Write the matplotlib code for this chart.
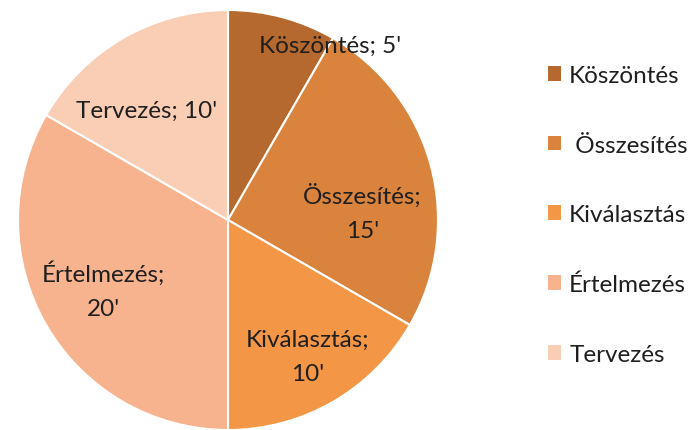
import numpy as np
import matplotlib.pyplot as plt
from matplotlib.patches import Patch

plt.rcParams['font.family'] = ['Lato', 'DejaVu Sans']

# adatok
labels = ['Köszöntés', 'Összesítés', 'Kiválasztás', 'Értelmezés', 'Tervezés']
legend_labels = ['Köszöntés', ' Összesítés', 'Kiválasztás', 'Értelmezés', 'Tervezés']
minutes = [5, 15, 10, 20, 10]
colors = ['#B5692F', '#D9833D', '#F39646', '#F7B38E', '#FACDB5']

# felirat helyek (tengely koordinatak)
label_pos = [(0.486, 0.83), (0.64, 0.04), (0.38, -0.65), (-0.595, -0.33), (-0.386, 0.52)]
label_text = ["Köszöntés; 5'", "Összesítés;\n15'", "Kiválasztás;\n10'", "Értelmezés;\n20'", "Tervezés; 10'"]

fig = plt.figure(figsize=(6.92, 4.31), dpi=100)
ax = fig.add_axes([18/692, 0, 420/692, 420/431])

ax.pie(minutes, colors=colors, startangle=90, counterclock=False, radius=1,
       wedgeprops=dict(edgecolor='white', linewidth=1.5))
ax.set_xlim(-1.0, 1.0)
ax.set_ylim(-1.0, 1.0)
ax.set_aspect('equal')

for (x, y), t in zip(label_pos, label_text):
    ax.text(x, y, t, ha='center', va='center', fontsize=17.5, color='#1f1f1f', linespacing=1.75)

handles = [Patch(facecolor=c, edgecolor='none') for c in colors]
fig.legend(handles, legend_labels, loc='upper left', bbox_to_anchor=(548/692, 1 - 66/431),
           frameon=False, fontsize=17.5, handlelength=0.54, handleheight=0.54,
           handletextpad=0.33, labelspacing=2.0, labelcolor='#1f1f1f', borderpad=0, borderaxespad=0)

fig.savefig('out.png', dpi=100)
